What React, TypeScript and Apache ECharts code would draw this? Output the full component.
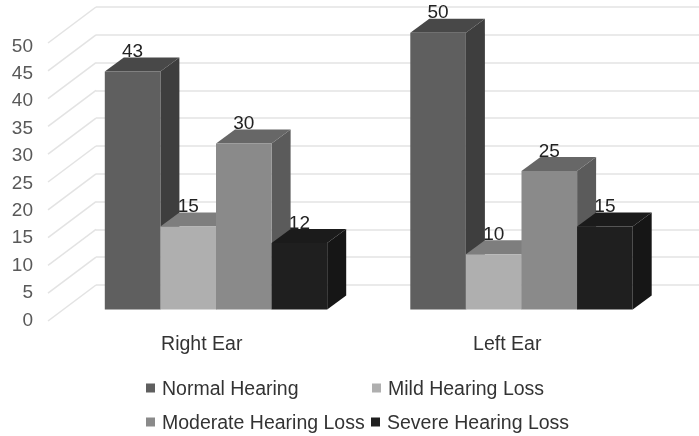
import React, { useEffect, useRef } from "react";
import * as echarts from "echarts";

const categories = ["Right Ear", "Left Ear"];
const seriesNames = ["Normal Hearing", "Mild Hearing Loss", "Moderate Hearing Loss", "Severe Hearing Loss"];
const normalHearing = [43, 50];
const mildLoss = [15, 10];
const moderateLoss = [30, 25];
const severeLoss = [12, 15];
const axisTicks = [0, 5, 10, 15, 20, 25, 30, 35, 40, 45, 50];
const faceColors = [
  { front: "#5f5f5f", top: "#484848", side: "#3e3e3e" },
  { front: "#afafaf", top: "#7e7e7e", side: "#707070" },
  { front: "#8a8a8a", top: "#676767", side: "#5b5b5b" },
  { front: "#1f1f1f", top: "#1b1b1b", side: "#161616" },
];

const FONT = '"Liberation Sans", Arial, sans-serif';
const SIZE = 19;
const TEXT_SIZE = 19.5;
const BAR_W = 55.6;
const DX = 19;
const DY = 14;

function barSeries(idx: number, values: number[]) {
  const c = faceColors[idx];
  return {
    type: "custom",
    name: seriesNames[idx],
    xAxisIndex: 2,
    yAxisIndex: 2,
    itemStyle: { color: c.front },
    clip: false,
    data: values.map((v, i) => [i, v]),
    renderItem: (_p: any, api: any) => {
      const top = api.coord([api.value(0), api.value(1)]);
      const base = api.coord([api.value(0), 0]);
      const x0 = top[0] - 2 * BAR_W + idx * BAR_W;
      const x1 = x0 + BAR_W;
      const y0 = top[1];
      const y1 = base[1];
      return {
        type: "group",
        children: [
          { type: "polygon", shape: { points: [[x1, y0], [x1 + DX, y0 - DY], [x1 + DX, y1 - DY], [x1, y1]] }, style: { fill: c.side } },
          { type: "polygon", shape: { points: [[x0, y0], [x0 + DX, y0 - DY], [x1 + DX, y0 - DY], [x1, y0]] }, style: { fill: c.top } },
          { type: "rect", shape: { x: x0, y: y0, width: BAR_W, height: y1 - y0 }, style: { fill: c.front } },
          {
            type: "text",
            z2: 50,
            style: {
              text: String(api.value(1)),
              x: (x0 + x1) / 2,
              y: y0 - 21,
              align: "center",
              verticalAlign: "middle",
              fill: "#222222",
              font: `${SIZE}px ${FONT}`,
            },
          },
        ],
      };
    },
  };
}

export default function App() {
  const ref = useRef<HTMLDivElement>(null);
  useEffect(() => {
    const chart = echarts.init(ref.current!, undefined, { renderer: "svg" });
    const legendItem = (name: string, left: number, top: number) => ({
      icon: "rect",
      itemWidth: 9,
      itemHeight: 9,
      left,
      top,
      padding: 0,
      selectedMode: false,
      data: [name],
      textStyle: { fontFamily: FONT, fontSize: TEXT_SIZE, color: "#333333", padding: [0, 0, 0, 2], lineHeight: 21 },
    });
    chart.setOption({
      animation: false,
      backgroundColor: "#ffffff",
      grid: [
        { left: 49, width: 611, top: 45, height: 274 },
        { left: 96, right: 0, top: 7, height: 278 },
        { left: 63.25, width: 611, top: 32.7, height: 276.8 },
      ],
      xAxis: [
        {
          type: "category",
          gridIndex: 0,
          data: categories,
          axisLine: { show: false },
          axisTick: { show: false },
          axisLabel: { margin: 14, fontFamily: FONT, fontSize: TEXT_SIZE, color: "#333333" },
        },
        { type: "value", gridIndex: 1, min: 0, max: 1, show: false },
        { type: "category", gridIndex: 2, data: categories, show: false },
      ],
      yAxis: [
        {
          type: "value",
          gridIndex: 0,
          min: 0,
          max: 50,
          interval: 5,
          splitLine: { show: false },
          axisLine: { show: false },
          axisTick: { show: false },
          axisLabel: { margin: 16, fontFamily: FONT, fontSize: SIZE, color: "#595959" },
        },
        {
          type: "value",
          gridIndex: 1,
          min: 0,
          max: 50,
          interval: 5,
          axisLabel: { show: false },
          axisLine: { show: false },
          axisTick: { show: false },
          splitLine: { show: true, lineStyle: { color: "#e3e3e3", width: 1.5 } },
        },
        { type: "value", gridIndex: 2, min: 0, max: 50, show: false },
      ],
      legend: [
        legendItem(seriesNames[0], 146, 377.5),
        legendItem(seriesNames[1], 372, 377.5),
        legendItem(seriesNames[2], 146, 411.5),
        legendItem(seriesNames[3], 371, 411.5),
      ],
      series: [
        {
          type: "custom",
          xAxisIndex: 1,
          yAxisIndex: 1,
          silent: true,
          clip: false,
          data: axisTicks.map((t) => [0, t]),
          renderItem: (_p: any, api: any) => {
            const p = api.coord([0, api.value(1)]);
            return {
              type: "line",
              shape: { x1: p[0] - 48, y1: p[1] + 36, x2: p[0], y2: p[1] },
              style: { stroke: "#e3e3e3", lineWidth: 1.5 },
            };
          },
        },
        barSeries(0, normalHearing),
        barSeries(1, mildLoss),
        barSeries(2, moderateLoss),
        barSeries(3, severeLoss),
      ],
    });
    return () => chart.dispose();
  }, []);
  return (
    <div
      ref={ref}
      style={{ position: "absolute", left: 0, top: 0, width: 699, height: 436, filter: "blur(0.4px)" }}
    />
  );
}
